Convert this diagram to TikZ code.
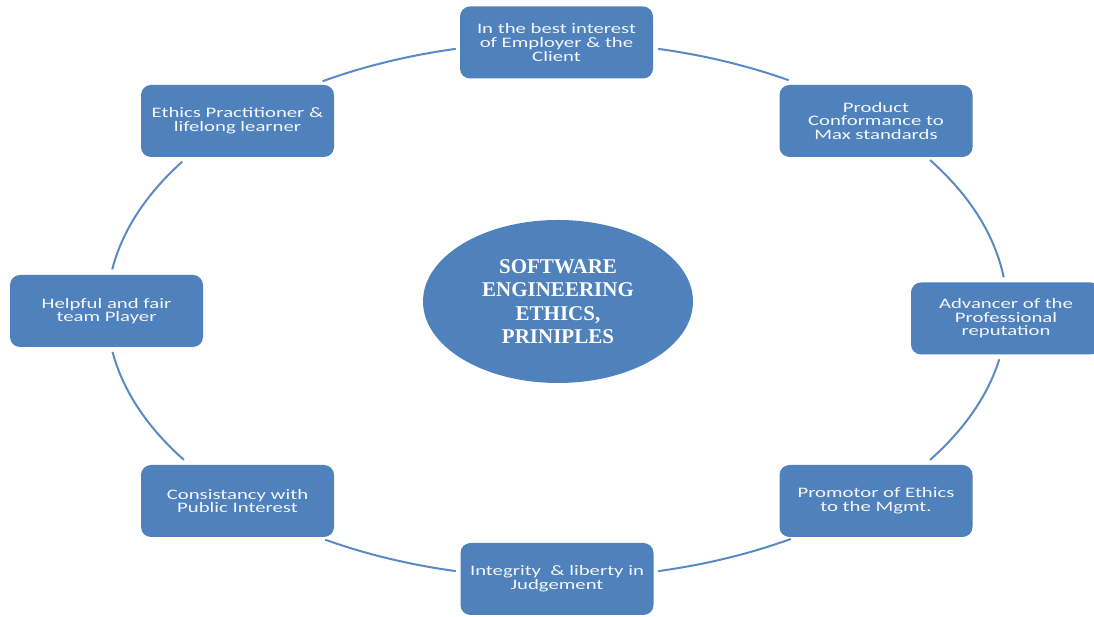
\documentclass[tikz,border=0pt]{standalone}
\usepackage{fontspec}
\usetikzlibrary{shapes.geometric}
\newfontfamily\boxfont[FakeStretch=1.43]{Carlito}
\newfontfamily\hubfont{Liberation Serif}
\definecolor{officeblue}{HTML}{4F81BD}
\definecolor{ringblue}{HTML}{5A8AC6}
\definecolor{boxtext}{HTML}{F4F6FA}
\tikzset{
  principle/.style={draw=none, fill=officeblue, rounded corners=10pt,
    minimum width=193pt, minimum height=72pt, inner sep=0pt,
    align=center, text=boxtext,
    font=\boxfont\fontsize{14.5}{13.6}\selectfont},
  hub/.style={ellipse, fill=officeblue, draw=none, minimum width=270pt,
    minimum height=163pt, inner sep=0pt, align=center, text=white,
    font=\hubfont\bfseries\fontsize{21}{23.5}\selectfont},
  ringarc/.style={draw=ringblue, line width=2pt}
}
\begin{document}
\begin{tikzpicture}[x=1pt,y=1pt]
\clip (0,0) rectangle (1094,617);
\fill[white] (0,0) rectangle (1094,617);
\coordinate (ring) at (557,307);
% arcs of the ring
\draw[ringarc] (ring) ++(121.4:450 and 268) arc[start angle=121.4, end angle=103, x radius=450, y radius=268];
\draw[ringarc] (ring) ++(77:450 and 268) arc[start angle=77, end angle=59, x radius=450, y radius=268];
\draw[ringarc] (ring) ++(34:450 and 268) arc[start angle=34, end angle=7, x radius=450, y radius=268];
\draw[ringarc] (ring) ++(-10.6:450 and 268) arc[start angle=-10.6, end angle=-34, x radius=450, y radius=268];
\draw[ringarc] (ring) ++(-58.7:450 and 268) arc[start angle=-58.7, end angle=-77, x radius=450, y radius=268];
\draw[ringarc] (ring) ++(-103:450 and 268) arc[start angle=-103, end angle=-121, x radius=450, y radius=268];
\draw[ringarc] (ring) ++(214:450 and 268) arc[start angle=214, end angle=189, x radius=450, y radius=268];
\draw[ringarc] (ring) ++(171.3:450 and 268) arc[start angle=171.3, end angle=146.4, x radius=450, y radius=268];
% nodes
\node[hub] (center) at (558,315.5) {SOFTWARE\\ENGINEERING\\ETHICS,\\PRINIPLES};
\node[principle] (top) at (556.5,574.5) {In the best interest\\of Employer \& the\\Client};
\node[principle] (ur) at (876,496) {Product\\Conformance to\\Max standards};
\node[principle, minimum width=190pt] (right) at (1006,298.5) {Advancer of the\\Professional\\reputation};
\node[principle] (lr) at (876,116) {Promotor of Ethics\\to the Mgmt.};
\node[principle] (bottom) at (557,38) {Integrity\ \ \& liberty in\\Judgement};
\node[principle] (ll) at (237.5,116) {Consistancy with\\Public Interest};
\node[principle] (left) at (106.5,306) {Helpful and fair\\team Player};
\node[principle] (ul) at (237.5,496) {Ethics Practitioner \&\\lifelong learner};
\end{tikzpicture}
\end{document}
